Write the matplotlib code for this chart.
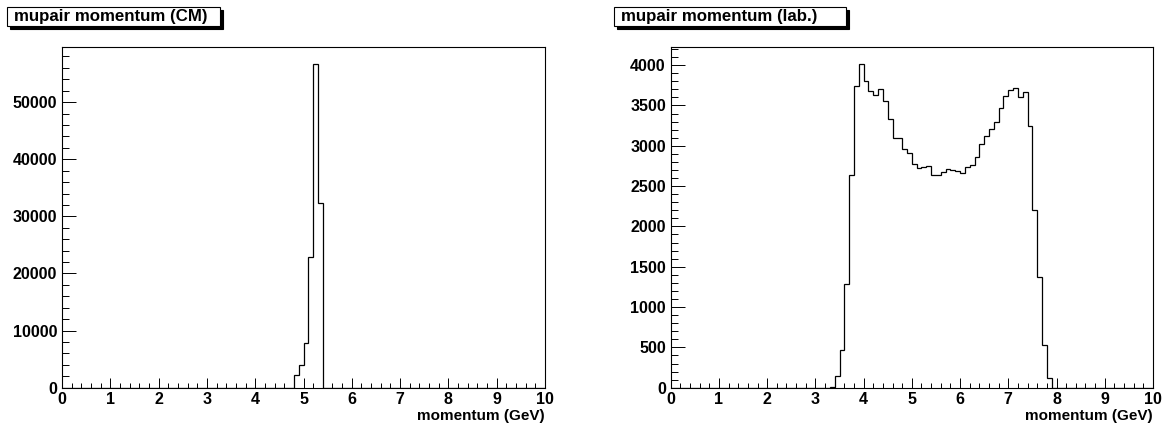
import numpy as np
import matplotlib
matplotlib.use("Agg")
import matplotlib.pyplot as plt
from matplotlib.patches import Rectangle
from matplotlib.ticker import MultipleLocator, FormatStrFormatter

plt.rcParams['font.family'] = ['Liberation Sans', 'DejaVu Sans']
plt.rcParams['font.weight'] = 'bold'

# 100 bins, 0..10 GeV
n_bins = 100
x_min, x_max = 0.0, 10.0

# mupair momentum in the CM frame: filled bins start at 4.8 GeV
cm_first_bin = 48
cm_counts = [2220, 3970, 7880, 22820, 56770, 32270]

# mupair momentum in the lab frame: filled bins start at 3.3 GeV
lab_first_bin = 33
lab_counts = [12, 140, 462, 1290, 2632, 3743, 4020, 3805, 3673, 3627,
              3705, 3561, 3338, 3098, 3098, 2962, 2912, 2780, 2719, 2735,
              2743, 2632, 2632, 2673, 2706, 2698, 2688, 2665, 2739, 2764,
              2863, 3016, 3119, 3210, 3297, 3474, 3619, 3689, 3722, 3602,
              3664, 3243, 2205, 1372, 527, 116]

titles = ["mupair momentum (CM)", "mupair momentum (lab.)"]
xlabel = "momentum (GeV)"


def fill_hist(first, counts):
    h = np.zeros(n_bins)
    h[first:first + len(counts)] = counts
    return h


edges = np.linspace(x_min, x_max, n_bins + 1)
h_cm = fill_hist(cm_first_bin, cm_counts)
h_lab = fill_hist(lab_first_bin, lab_counts)

W, H = 1169, 428
fig = plt.figure(figsize=(W / 100, H / 100), dpi=100)


def pad_axes(l, t, r, b):
    return fig.add_axes([l / W, 1 - b / H, (r - l) / W, (b - t) / H])


def title_box(l, t, r, b, text):
    sh = 2.5
    fig.add_artist(Rectangle(((l + sh) / W, 1 - (b + sh) / H), (r - l) / W, (b - t) / H,
                             transform=fig.transFigure, facecolor='black',
                             edgecolor='black', lw=0.8))
    fig.add_artist(Rectangle((l / W, 1 - b / H), (r - l) / W, (b - t) / H,
                             transform=fig.transFigure, facecolor='white',
                             edgecolor='black', lw=0.8))
    fig.text((l + 7) / W, 1 - (t + b) / 2 / H, text, fontsize=12.2,
             fontweight='bold', va='center', ha='left')


def draw_hist(ax, h, major_y, minor_y):
    ax.stairs(h, edges, color='black', lw=0.9)
    ax.set_xlim(x_min, x_max)
    ax.set_ylim(0, h.max() * 1.05)
    ax.xaxis.set_major_locator(MultipleLocator(1))
    ax.xaxis.set_minor_locator(MultipleLocator(0.2))
    ax.yaxis.set_major_locator(MultipleLocator(major_y))
    ax.yaxis.set_minor_locator(MultipleLocator(minor_y))
    ax.yaxis.set_major_formatter(FormatStrFormatter('%d'))
    ax.xaxis.set_major_formatter(FormatStrFormatter('%d'))
    ax.tick_params(axis='x', which='major', direction='in', length=7.2, width=0.7,
                   labelsize=11.5, pad=3)
    ax.tick_params(axis='x', which='minor', direction='in', length=3.6, width=0.7)
    ax.tick_params(axis='y', which='major', direction='in', length=10, width=0.7,
                   labelsize=11.5, pad=3.5)
    ax.tick_params(axis='y', which='minor', direction='in', length=5, width=0.7)
    for lab in ax.get_xticklabels() + ax.get_yticklabels():
        lab.set_fontweight('bold')
    for sp in ax.spines.values():
        sp.set_linewidth(0.8)
    ax.text(1.0, -0.095, xlabel, transform=ax.transAxes, ha='right',
            va='baseline', fontsize=11, fontweight='bold')


ax1 = pad_axes(62, 47.3, 545, 387.7)
draw_hist(ax1, h_cm, 10000, 2000)
ax2 = pad_axes(670.7, 47.3, 1153, 387.7)
draw_hist(ax2, h_lab, 500, 100)

title_box(7, 7, 220, 26, titles[0])
title_box(614, 7, 846, 26, titles[1])

fig.savefig("out.png", dpi=100)
